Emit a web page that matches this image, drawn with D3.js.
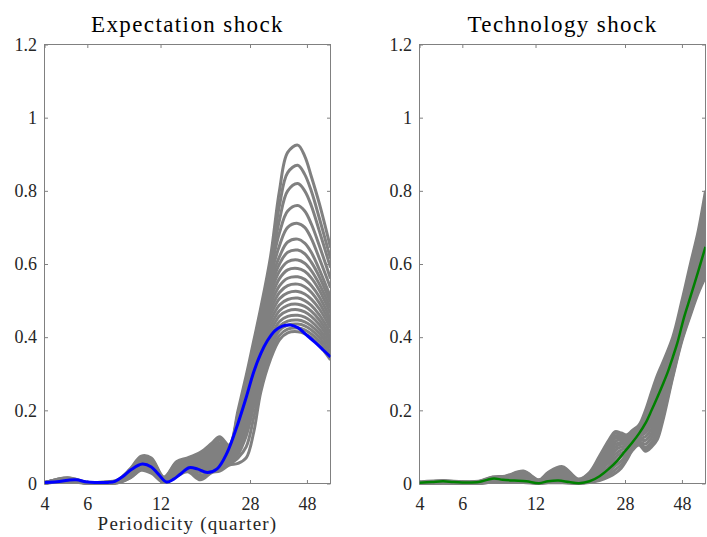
<!DOCTYPE html>
<html>
<head>
<meta charset="utf-8">
<script src="https://cdn.jsdelivr.net/npm/d3@7"></script>
<style>
  body { margin: 0; background: #fff; }
  text { font-family: 'Liberation Serif', 'Times New Roman', serif; }
</style>
</head>
<body>
<svg width="707" height="537"></svg>
<script>
const titles = ['Expectation shock', 'Technology shock'];
const xLabel = 'Periodicity (quarter)';
const xTicks = [4, 6, 12, 28, 48];
const yTicks = [0, 0.2, 0.4, 0.6, 0.8, 1, 1.2];

// periodicity grid shared by the grey draws of the expectation shock
const expectGrid = [4, 5, 6, 7, 8, 9, 10, 11, 12.4, 14, 15.5, 17.5, 19.5, 21, 23,
  25, 27, 29, 31, 34, 37, 40, 44, 47, 50, 54, 60];

const expectDraws = [
  [0.002,0.016,0.003,0.004,0.010,0.040,0.075,0.070,0.018,0.060,0.070,0.085,0.110,0.128,0.105, 0.200,0.295,0.390,0.480,0.620,0.800,0.905,0.925,0.895,0.840,0.765,0.645],
  [0.002,0.015,0.003,0.003,0.009,0.038,0.072,0.066,0.016,0.058,0.068,0.082,0.106,0.124,0.104, 0.190,0.280,0.380,0.470,0.600,0.760,0.850,0.870,0.845,0.800,0.725,0.615],
  [0.002,0.014,0.002,0.003,0.008,0.036,0.070,0.063,0.015,0.055,0.066,0.080,0.101,0.118,0.102, 0.185,0.275,0.370,0.460,0.590,0.720,0.800,0.820,0.800,0.760,0.690,0.590],
  [0.002,0.013,0.002,0.003,0.008,0.034,0.068,0.060,0.014,0.053,0.064,0.077,0.095,0.111,0.100, 0.180,0.270,0.365,0.455,0.580,0.685,0.745,0.760,0.745,0.710,0.650,0.560],
  [0.002,0.012,0.002,0.003,0.007,0.032,0.066,0.058,0.013,0.050,0.062,0.074,0.089,0.104,0.098, 0.175,0.265,0.360,0.450,0.565,0.650,0.700,0.711,0.700,0.670,0.615,0.535],
  [0.002,0.012,0.002,0.002,0.007,0.030,0.064,0.056,0.012,0.048,0.060,0.070,0.083,0.097,0.095, 0.170,0.260,0.355,0.440,0.550,0.620,0.660,0.668,0.657,0.632,0.585,0.510],
  [0.002,0.011,0.002,0.002,0.006,0.028,0.062,0.054,0.011,0.046,0.058,0.066,0.078,0.091,0.090, 0.165,0.255,0.350,0.435,0.535,0.600,0.632,0.638,0.628,0.605,0.565,0.495],
  [0.002,0.011,0.002,0.002,0.006,0.027,0.060,0.052,0.010,0.044,0.056,0.063,0.073,0.086,0.086, 0.160,0.250,0.345,0.430,0.520,0.580,0.606,0.611,0.602,0.582,0.545,0.480],
  [0.002,0.010,0.002,0.002,0.005,0.026,0.058,0.050,0.009,0.042,0.054,0.060,0.069,0.081,0.082, 0.155,0.245,0.340,0.420,0.505,0.560,0.584,0.588,0.580,0.562,0.528,0.465],
  [0.002,0.010,0.002,0.002,0.005,0.025,0.056,0.048,0.008,0.040,0.052,0.057,0.065,0.076,0.078, 0.150,0.240,0.335,0.410,0.490,0.540,0.561,0.565,0.558,0.541,0.510,0.450],
  [0.002,0.009,0.002,0.002,0.005,0.024,0.054,0.046,0.008,0.038,0.050,0.054,0.061,0.071,0.075, 0.145,0.235,0.325,0.400,0.475,0.522,0.541,0.545,0.538,0.523,0.493,0.437],
  [0.002,0.009,0.002,0.002,0.004,0.023,0.052,0.044,0.007,0.036,0.048,0.050,0.057,0.066,0.072, 0.140,0.225,0.315,0.390,0.460,0.505,0.521,0.525,0.518,0.504,0.477,0.425],
  [0.001,0.008,0.002,0.002,0.004,0.022,0.050,0.042,0.006,0.034,0.046,0.047,0.053,0.062,0.069, 0.130,0.215,0.300,0.375,0.445,0.488,0.503,0.507,0.500,0.487,0.461,0.412],
  [0.001,0.008,0.001,0.001,0.004,0.021,0.048,0.040,0.006,0.032,0.044,0.043,0.049,0.058,0.066, 0.120,0.200,0.285,0.360,0.430,0.472,0.487,0.490,0.484,0.471,0.447,0.400],
  [0.001,0.007,0.001,0.001,0.003,0.020,0.046,0.038,0.005,0.030,0.042,0.039,0.046,0.054,0.063, 0.110,0.185,0.270,0.345,0.415,0.458,0.472,0.475,0.469,0.457,0.434,0.390],
  [0.001,0.007,0.001,0.001,0.003,0.019,0.044,0.036,0.005,0.028,0.040,0.035,0.043,0.050,0.060, 0.100,0.170,0.250,0.330,0.400,0.443,0.457,0.460,0.455,0.443,0.421,0.380],
  [0.001,0.006,0.001,0.001,0.003,0.018,0.042,0.034,0.004,0.026,0.038,0.030,0.040,0.046,0.057, 0.090,0.150,0.230,0.310,0.385,0.430,0.444,0.447,0.442,0.431,0.410,0.370],
  [0.001,0.006,0.001,0.001,0.003,0.017,0.040,0.032,0.004,0.024,0.036,0.022,0.036,0.042,0.054, 0.080,0.130,0.210,0.290,0.370,0.418,0.433,0.436,0.431,0.420,0.399,0.360],
  [0.001,0.005,0.001,0.001,0.002,0.016,0.038,0.030,0.003,0.022,0.034,0.016,0.033,0.038,0.052, 0.070,0.100,0.180,0.270,0.355,0.405,0.422,0.425,0.420,0.409,0.389,0.350],
  [0.001,0.005,0.001,0.001,0.002,0.015,0.036,0.028,0.003,0.020,0.032,0.010,0.030,0.034,0.050, 0.055,0.070,0.140,0.250,0.340,0.393,0.412,0.415,0.410,0.399,0.378,0.338]
];

// blue line (expectation shock)
const expectMainP = [4, 4.5, 5, 5.4, 6, 6.6, 7.3, 7.8, 8.4, 9.1, 10.1, 11, 11.7, 12.7, 13.6, 14.5, 15.7, 17,
  18.7, 20.5, 22.5, 25, 27, 29, 31, 33, 35.5, 38, 41, 44, 48, 52, 56, 60];
const expectMainV = [0.003, 0.005, 0.009, 0.010, 0.004, 0.003, 0.003, 0.006, 0.019, 0.038, 0.053, 0.045, 0.027,
  0.004, 0.012, 0.026, 0.043, 0.040, 0.030, 0.040, 0.083, 0.165, 0.235, 0.305, 0.355, 0.390, 0.418, 0.430,
  0.433, 0.426, 0.405, 0.385, 0.365, 0.346];

// periodicity grid shared by the grey draws of the technology shock
const techGrid = [4, 5, 6, 7, 8, 9, 10.7, 12.4, 13.5, 15.5, 18, 20, 22, 24, 25.5, 27, 28.5, 30,
  32, 34, 36, 38, 40, 44, 48, 52, 56, 60];

const techDraws = [
  [0.004,0.008,0.005,0.006,0.018,0.020,0.034,0.010,0.030,0.046,0.012,0.030,0.075,0.118,0.142,0.138,0.133,0.145,0.160,0.200,0.250,0.295,0.330,0.400,0.500,0.600,0.690,0.800],
  [0.003,0.007,0.004,0.005,0.017,0.019,0.032,0.009,0.028,0.043,0.011,0.028,0.070,0.112,0.137,0.134,0.130,0.142,0.158,0.190,0.240,0.285,0.320,0.390,0.490,0.585,0.670,0.770],
  [0.003,0.006,0.004,0.005,0.015,0.017,0.030,0.008,0.026,0.040,0.010,0.025,0.065,0.105,0.130,0.130,0.126,0.138,0.152,0.180,0.230,0.275,0.310,0.385,0.480,0.570,0.655,0.745],
  [0.003,0.006,0.003,0.004,0.014,0.016,0.028,0.007,0.024,0.037,0.009,0.022,0.060,0.098,0.123,0.125,0.122,0.133,0.147,0.172,0.215,0.262,0.300,0.375,0.470,0.560,0.640,0.720],
  [0.002,0.005,0.003,0.004,0.013,0.014,0.025,0.006,0.022,0.034,0.008,0.020,0.055,0.090,0.115,0.120,0.117,0.128,0.142,0.163,0.200,0.250,0.290,0.365,0.460,0.548,0.625,0.700],
  [0.002,0.005,0.003,0.003,0.012,0.013,0.023,0.005,0.019,0.031,0.007,0.018,0.050,0.082,0.107,0.113,0.112,0.123,0.137,0.155,0.187,0.235,0.275,0.355,0.450,0.535,0.610,0.680],
  [0.002,0.004,0.002,0.003,0.011,0.012,0.020,0.004,0.017,0.027,0.006,0.016,0.045,0.075,0.099,0.107,0.108,0.118,0.132,0.147,0.175,0.220,0.262,0.345,0.440,0.523,0.595,0.660],
  [0.002,0.004,0.002,0.002,0.009,0.010,0.018,0.003,0.014,0.023,0.005,0.014,0.040,0.067,0.090,0.100,0.102,0.113,0.128,0.138,0.163,0.205,0.250,0.335,0.430,0.510,0.580,0.640],
  [0.001,0.003,0.002,0.002,0.008,0.009,0.015,0.003,0.012,0.019,0.004,0.011,0.034,0.058,0.080,0.092,0.096,0.108,0.123,0.128,0.150,0.190,0.238,0.325,0.420,0.500,0.565,0.625],
  [0.001,0.003,0.001,0.001,0.007,0.007,0.012,0.002,0.009,0.015,0.003,0.009,0.028,0.048,0.070,0.083,0.090,0.103,0.118,0.118,0.137,0.175,0.225,0.315,0.410,0.490,0.555,0.610],
  [0.001,0.002,0.001,0.001,0.006,0.006,0.009,0.001,0.007,0.011,0.002,0.007,0.022,0.040,0.060,0.073,0.083,0.099,0.113,0.108,0.125,0.160,0.210,0.310,0.405,0.480,0.545,0.600],
  [0.000,0.002,0.001,0.001,0.005,0.005,0.007,0.001,0.005,0.008,0.001,0.005,0.016,0.031,0.048,0.062,0.077,0.096,0.110,0.099,0.113,0.145,0.195,0.300,0.400,0.472,0.535,0.585],
  [0.000,0.001,0.000,0.000,0.004,0.004,0.005,0.000,0.003,0.005,0.001,0.004,0.011,0.024,0.037,0.052,0.070,0.093,0.108,0.093,0.105,0.130,0.180,0.295,0.395,0.465,0.527,0.575],
  [0.000,0.001,0.000,0.000,0.004,0.004,0.003,0.000,0.002,0.002,0.000,0.003,0.008,0.018,0.028,0.042,0.065,0.090,0.105,0.088,0.100,0.120,0.170,0.290,0.390,0.460,0.520,0.565]
];

// green line (technology shock)
const techMainP = [4, 4.5, 5, 5.5, 6, 7, 7.6, 8.1, 8.8, 9.8, 11, 12.4, 13.5, 14.9, 16.5, 18.1, 20, 22, 24,
  26, 28, 30, 32, 34, 36, 38, 40, 42, 44, 46, 49, 52, 56, 60];
const techMainV = [0.002, 0.004, 0.006, 0.004, 0.003, 0.004, 0.010, 0.014, 0.010, 0.008, 0.006, 0.001, 0.006,
  0.008, 0.004, 0.001, 0.006, 0.020, 0.040, 0.062, 0.088, 0.112, 0.137, 0.165, 0.200, 0.235, 0.270, 0.305,
  0.345, 0.385, 0.455, 0.510, 0.580, 0.647];

const svg = d3.select('svg');
const width = +svg.attr('width');
const height = +svg.attr('height');

const margin = { top: 44.5, bottom: 53.5 };
const panelLefts = [44.5, 419.5];
const panelWidth = 286;
const innerHeight = height - margin.top - margin.bottom;

const xScale = d3.scaleLog().domain([4, 60]).range([0, panelWidth]);
const yScale = d3.scaleLinear().domain([0, 1.2]).range([innerHeight, 0]);

const line = d3.line()
  .x(d => xScale(d[0]))
  .y(d => yScale(d[1]))
  .curve(d3.curveCatmullRom.alpha(0.5));

const panels = [
  { grid: expectGrid, draws: expectDraws, mainP: expectMainP, mainV: expectMainV, color: '#0000ff', mainWidth: 3 },
  { grid: techGrid, draws: techDraws, mainP: techMainP, mainV: techMainV, color: '#008000', mainWidth: 2.5 }
];

const axisColor = '#808080';
const textColor = '#262626';

// ticks only (no labels) for the mirrored top / right sides
const styleAxis = (sel, withLabels) => {
  sel.select('.domain').remove();
  sel.selectAll('line').attr('stroke', axisColor);
  if (withLabels) {
    sel.selectAll('text')
      .attr('fill', textColor)
      .style('font-size', '18px');
  } else {
    sel.selectAll('text').remove();
  }
};

panels.forEach((p, i) => {
  const g = svg.append('g')
    .attr('transform', `translate(${panelLefts[i]},${margin.top})`);

  g.append('clipPath').attr('id', `clip${i}`)
    .append('rect')
      .attr('x', 0).attr('y', -2)
      .attr('width', panelWidth).attr('height', innerHeight + 4);

  g.append('g')
    .attr('transform', `translate(0,${innerHeight})`)
    .call(d3.axisBottom(xScale).tickValues(xTicks).tickFormat(d3.format('d'))
      .tickSizeInner(-3.5).tickSizeOuter(0).tickPadding(13.5))
    .call(styleAxis, true);

  g.append('g')
    .call(d3.axisTop(xScale).tickValues(xTicks)
      .tickSizeInner(-3.5).tickSizeOuter(0))
    .call(styleAxis, false);

  g.append('g')
    .call(d3.axisLeft(yScale).tickValues(yTicks).tickFormat(d => String(d))
      .tickSizeInner(-3.5).tickSizeOuter(0).tickPadding(7.5))
    .call(styleAxis, true);

  g.append('g')
    .attr('transform', `translate(${panelWidth},0)`)
    .call(d3.axisRight(yScale).tickValues(yTicks)
      .tickSizeInner(-3.5).tickSizeOuter(0))
    .call(styleAxis, false);

  g.append('rect')
    .attr('width', panelWidth)
    .attr('height', innerHeight)
    .attr('fill', 'none')
    .attr('stroke', axisColor)
    .attr('stroke-width', 1);

  const plot = g.append('g').attr('clip-path', `url(#clip${i})`);

  plot.selectAll('path.draw').data(p.draws)
    .enter().append('path')
      .attr('class', 'draw')
      .attr('d', vals => line(vals.map((v, k) => [p.grid[k], v])))
      .attr('fill', 'none')
      .attr('stroke', '#808080')
      .attr('stroke-width', 3)
      .attr('stroke-linejoin', 'round');

  plot.append('path')
    .attr('d', line(p.mainV.map((v, k) => [p.mainP[k], v])))
    .attr('fill', 'none')
    .attr('stroke', p.color)
    .attr('stroke-width', p.mainWidth)
    .attr('stroke-linejoin', 'round');

  g.append('text')
    .attr('x', panelWidth / 2)
    .attr('y', -13)
    .attr('text-anchor', 'middle')
    .attr('fill', '#000')
    .style('font-size', '23px')
    .style('letter-spacing', '1.4px')
    .text(titles[i]);
});

svg.append('text')
  .attr('x', panelLefts[0] + panelWidth / 2)
  .attr('y', 530)
  .attr('text-anchor', 'middle')
  .attr('fill', textColor)
  .style('font-size', '19px')
  .style('letter-spacing', '1.2px')
  .text(xLabel);
</script>
</body>
</html>
